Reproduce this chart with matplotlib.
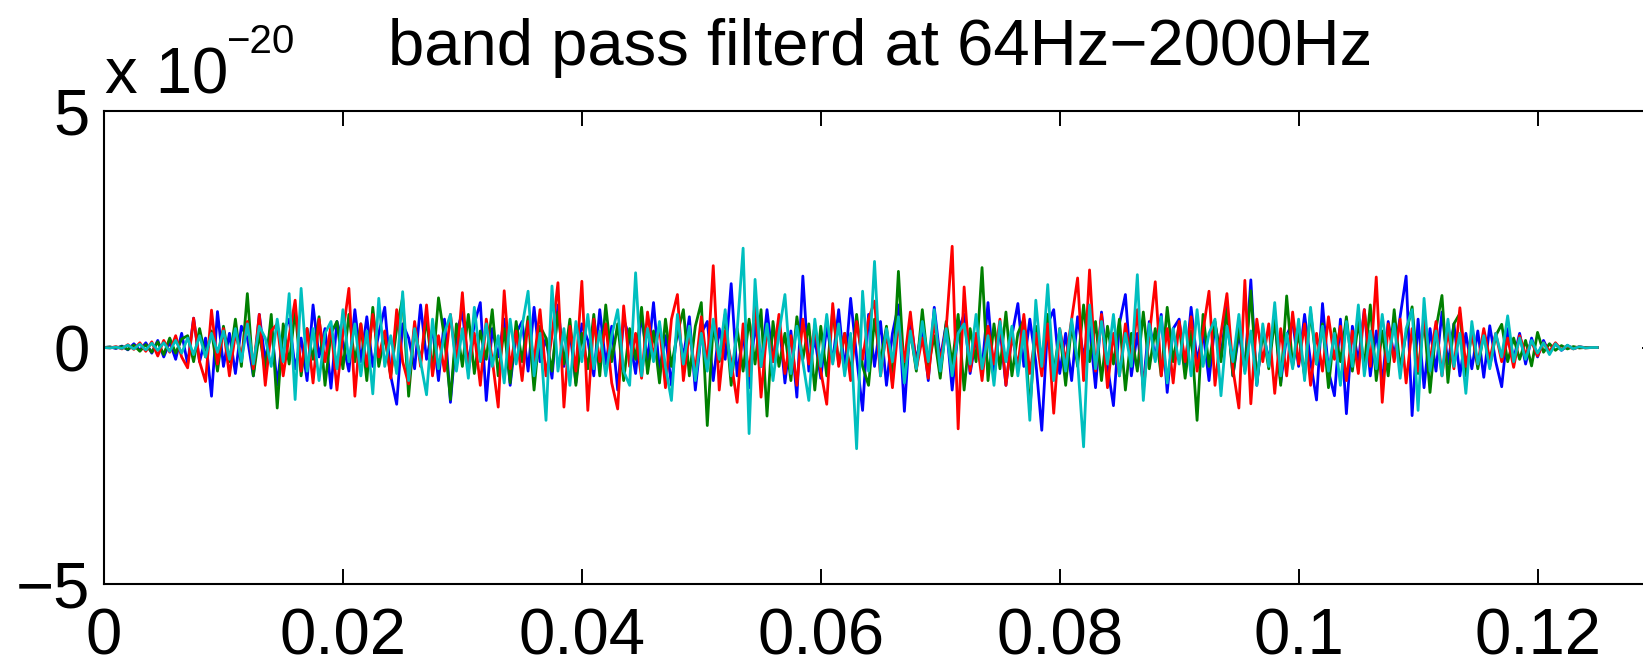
import numpy as np
import matplotlib
matplotlib.use('Agg')
import matplotlib.pyplot as plt

'''
Band pass filtered strain (64Hz - 2000Hz), four channels.
Values are in units of 1e-20, sampled every 0.5 ms from 0 to 0.125 s.
'''

dt = 0.0005

blue = [
    0, 0.01, -0.02, 0.03, -0.05, 0.08, -0.06, 0.1, -0.12, 0.15,
    -0.2, 0.12, -0.25, 0.3, -0.35, 0.62, -0.3, 0.2, -1.03, 0.76,
    -0.4, 0.3, -0.55, 0.45, 0.2, -0.6, 0.7, -0.3, 0.5, -0.8,
    0.35, 0.6, -0.45, 0.2, -0.7, 0.9, -0.2, 0.4, -0.86, 0.55,
    0.1, -0.5, 0.8, -0.3, 0.65, -0.4, 0.3, 0.85, -0.6, -1.2,
    0.5, 0.2, -0.45, 0.9, -0.25, 0.4, -0.7, 0.6, -1.16, 0.3,
    0.75, -0.35, 0.5, 0.95, -1.12, 0.4, -0.2, 0.6, -0.8, 0.3,
    0.55, -0.5, 0.85, -0.3, 0.2, -0.65, 0.9, -0.4, 0.35, -0.75,
    0.5, 0.15, -0.6, 0.8, -0.35, 0.45, -0.9, 0.6, 0.2, -0.55,
    0.7, -0.3, 0.95, -0.5, 0.25, -0.8, 0.45, -0.2, 0.65, -0.9,
    0.3, 0.55, -0.7, 0.4, -0.25, 1.35, -0.6, 0.3, -0.85, 0.5,
    -0.4, 0.8, -0.3, 0.6, -0.75, 0.35, -1.05, 1.51, -0.5, 0.2,
    -0.65, 0.45, -0.3, 0.8, -0.5, 1.04, -0.2, -1.33, 0.7, -0.4,
    0.55, -0.8, 0.3, 0.9, -1.35, 0.6, -0.3, 0.45, -0.7, 0.85,
    -0.25, 0.5, -0.9, 0.35, 0.7, -0.55, 0.2, -0.45, 0.95, -0.6,
    0.4, -0.8, 0.25, 0.93, -0.4, 0.6, -0.3, -1.75, 0.5, 0.8,
    -0.55, 0.3, -0.7, 0.65, -0.2, 0.45, -0.85, 0.75, -0.4, -1.23,
    0.5, 1.12, -0.6, 0.3, -0.8, 0.55, -0.25, 0.7, -0.95, 0.4,
    0.6, -0.5, 0.85, -0.3, 0.35, -0.7, 0.5, -0.2, 0.9, -0.6,
    0.3, -0.45, 1.43, -0.8, 0.4, -0.3, 0.65, -0.75, 0.25, 0.55,
    -0.4, 0.7, -0.3, -1.11, 0.93, -0.5, -1.02, 0.6, -1.4, 0.45,
    -0.3, 0.8, -0.6, 0.35, -0.75, 0.55, -0.2, 0.65, 1.51, -1.44,
    0.6, -0.85, 0.4, -0.5, 0.75, -0.35, 0.5, -0.6, 0.3, -0.45,
    0.35, -0.63, 0.46, -0.3, -0.83, 0.4, -0.25, 0.3, -0.35, 0.2,
    -0.2, 0.15, -0.12, 0.08, -0.06, 0.04, -0.02, 0.01, 0, 0, 0,
]

green = [
    0, 0.01, -0.01, 0.02, -0.04, 0.05, -0.08, 0.06, -0.1, 0.12,
    -0.15, 0.2, -0.12, 0.18, 0.25, -0.3, 0.4, -0.2, 0.35, -0.5,
    0.45, -0.3, 0.6, -0.4, 1.14, -0.6, 0.3, -0.5, 0.7, -1.28,
    0.5, -0.35, 0.8, -0.6, 0.4, -0.25, 0.65, -0.8, 0.3, 0.55,
    -0.45, 0.7, -0.3, 0.5, -0.7, 0.85, -0.4, 0.25, -0.6, 0.4,
    1.05, -1.03, 0.45, -0.3, 0.6, -0.5, 1.05, 0.2, -1.1, 0.5,
    -0.4, 0.7, -0.55, 0.35, -0.25, 0.8, -0.6, 0.4, -0.75, 0.55,
    -0.3, 0.65, -0.9, 0.45, 0.2, -0.5, 0.75, -0.35, 0.6, -0.8,
    0.3, -0.45, 0.7, -0.6, 0.9, -0.3, 0.5, -0.7, 0.4, -0.25,
    0.85, -0.55, 0.35, -0.75, 0.6, -0.4, 0.3, 0.8, -0.6, 0.45,
    0.95, -1.65, 0.5, -0.3, 0.7, -0.8, 0.4, -0.5, 0.6, -0.35,
    0.8, -1.45, 0.55, -0.4, 0.3, -0.7, 0.65, -0.25, 0.5, -0.9,
    0.45, -0.6, 0.8, -0.35, 0.3, -0.55, 0.7, -0.4, -0.8, 0.6,
    -0.3, 0.45, -0.75, 1.61, -0.6, 0.35, -0.5, 0.8, -0.4, 0.25,
    -0.65, 0.55, -0.35, 0.7, -0.9, 0.4, -0.3, 1.69, -0.7, 0.5,
    -0.45, 0.75, -0.6, 0.3, 0.6, -1.33, 0.45, -0.25, 0.7, -0.55,
    0.35, -0.8, 0.5, -0.4, 0.9, -0.3, 0.55, -0.7, 0.45, -0.35,
    0.6, -0.9, 0.3, -0.5, 0.75, -0.45, 0.4, -0.6, 0.85, -0.3,
    0.5, -0.65, 0.35, -1.54, 0.7, -0.4, 0.55, -0.3, 0.8, -0.6,
    0.45, -0.5, 1.2, -0.75, 0.35, -0.45, 0.6, -0.8, 1.09, -0.4,
    0.3, -0.6, 0.75, -0.35, 0.5, -0.85, 0.4, -0.3, 0.65, -0.5,
    0.55, -0.4, 0.9, -0.7, 0.35, -0.6, 0.8, -0.45, 0.3, 0.86,
    -0.55, 0.6, -0.95, 0.4, 1.1, -0.74, 0.5, 0.72, -0.6, 0.35,
    -0.45, 0.3, -0.4, 0.25, 0.49, -0.3, 0.2, -0.25, 0.15, -0.39,
    0.32, -0.1, 0.08, -0.06, 0.04, -0.03, 0.02, -0.01, 0, 0, 0,
]

red = [
    0, -0.01, 0.02, -0.03, 0.06, -0.04, 0.1, -0.08, 0.12, -0.18,
    0.15, -0.1, 0.25, -0.2, -0.43, 0.62, -0.3, -0.72, 0.79, -0.35,
    0.4, -0.6, 0.3, -0.2, 0.55, -0.45, 0.7, -0.8, 0.35, 0.5,
    -0.6, 0.25, 1.0, -0.5, 0.4, -0.75, 0.6, -0.3, 0.45, -0.9,
    0.3, 1.25, -1.03, 0.5, -0.4, 0.7, -0.2, 0.35, -0.65, 0.8,
    -0.3, -0.77, 0.55, -0.4, 0.9, -0.6, 0.25, -0.5, 0.7, -0.35,
    1.16, -0.5, 0.3, -0.8, 0.6, -0.25, -1.26, 1.2, -0.45, 0.35,
    -0.7, 0.55, -0.3, 0.8, -0.6, 0.25, 1.37, -1.26, 0.45, -0.5,
    1.4, -1.33, 0.6, -0.3, 0.5, -0.75, -1.3, 0.88, -0.4, 0.3,
    -0.65, 0.75, -0.2, 0.45, -0.85, 0.6, 1.12, -0.7, 0.3, -0.5,
    0.65, -0.4, 1.73, -0.9, 0.35, -0.3, -1.16, 0.5, -0.6, 0.98,
    -1.05, 0.4, -0.3, 0.7, -0.55, 0.25, -0.8, 0.6, -0.35, 0.45,
    -0.5, -1.2, 0.93, -0.4, 0.3, -0.7, 0.55, -0.25, 0.6, 0.98,
    -0.6, 0.35, -0.85, 0.5, -0.3, 0.75, -0.45, 0.2, -0.65, 0.55,
    -0.3, 0.4, 2.14, -1.72, 1.28, -0.5, 0.3, -0.7, 0.45, -0.35,
    0.6, -0.8, 0.25, -0.4, 0.7, -0.55, 0.3, -0.6, 0.5, -1.39,
    0.4, -0.3, 0.6, 1.47, -0.7, 1.64, -0.5, 0.7, -0.85, 0.3,
    -0.6, 0.5, -0.35, 0.8, -0.9, 0.25, 1.39, -0.6, 0.4, -0.75,
    0.55, -0.3, 0.65, -0.5, 0.35, 1.19, -0.8, 0.3, 1.14, -0.45,
    -1.28, 1.42, -1.19, 0.6, -0.3, 0.5, -0.97, 0.4, -0.6, 0.75,
    -0.35, 0.5, -0.8, 0.3, -0.5, 0.65, -0.25, 0.45, -0.7, 0.35,
    -0.55, 0.8, -0.4, 1.49, -1.16, 0.5, -0.3, 0.6, -0.75, 0.4,
    -0.5, 0.65, -0.3, 0.55, -0.6, 0.35, -0.45, 0.84, -0.4, 0.3,
    -0.35, 0.4, -0.25, 0.3, -0.3, 0.2, -0.42, 0.25, -0.15, 0.12,
    -0.18, 0.1, -0.08, 0.1, -0.05, 0.04, -0.03, 0.02, -0.01, 0, 0,
]

cyan = [
    0, -0.01, 0.01, -0.02, 0.05, -0.03, 0.07, -0.05, 0.09, -0.06,
    0.1, -0.08, 0.15, -0.12, 0.2, -0.15, 0.25, -0.2, 0.3, -0.1,
    0.35, -0.25, 0.4, -0.3, 0.5, -0.35, 0.45, 0.2, -0.4, 0.6,
    -0.3, 1.14, -1.1, 1.25, -0.5, 0.4, -0.7, 0.3, 0.55, -0.45,
    0.8, -0.3, 0.5, -0.6, 0.35, -0.98, 1.04, -0.4, 0.25, -0.55,
    1.18, -0.7, 0.4, -0.3, -1.0, 0.6, -0.45, 0.3, 0.7, -0.5,
    0.4, -0.65, 0.85, -0.3, 0.5, -0.4, 0.25, -0.75, 0.6, -0.35,
    0.45, 1.19, -0.6, 0.3, -1.54, 1.3, -0.5, 0.4, -0.8, 0.55,
    -0.3, 0.7, -0.45, 0.35, -0.6, 0.25, 0.8, -0.5, -0.8, 1.58,
    -0.6, 0.4, -0.3, 0.55, -0.4, -1.12, 0.7, -0.35, 0.45, -0.7,
    0.3, -0.5, 0.6, -0.25, 0.8, -0.6, 0.35, 2.1, -1.82, 1.44,
    -0.4, 0.5, -0.7, 0.3, 1.12, -0.55, 0.45, -0.3, -1.12, 0.6,
    -0.4, 0.7, -0.35, 0.5, -0.6, 0.3, -2.14, 1.19, -0.5, 1.82,
    -0.6, 0.4, -0.3, 0.65, -0.75, 0.35, -0.45, 0.55, -0.3, 0.8,
    -0.5, 0.4, -0.6, 0.3, 0.5, -0.35, 0.7, -0.45, 0.25, -0.8,
    0.55, -0.3, 0.45, -0.6, 0.35, -1.54, 1.0, -0.4, 1.33, -0.7,
    0.4, -0.5, 0.6, -0.3, -2.1, 0.9, -0.45, 0.55, -0.35, 0.7,
    -0.6, 0.3, -0.4, 1.54, -1.12, 0.5, -0.3, 0.65, -0.75, 0.4,
    -0.35, 0.55, -0.6, 0.8, -0.4, 0.3, 0.6, -1.02, 0.45, -0.3,
    0.7, -0.55, 0.35, -0.8, 0.5, -0.4, 0.95, -0.6, 0.3, -0.45,
    0.6, -0.7, 0.85, -0.35, 0.45, -0.5, 0.3, -0.8, 0.55, -0.4,
    0.9, -0.6, 0.35, -0.45, 0.7, -0.3, 0.5, -0.65, 0.4, 0.8,
    -1.33, 1.04, -0.5, 0.35, -0.6, 0.6, -0.4, 0.3, -0.97, 0.55,
    -0.35, 0.25, -0.45, 0.3, -0.2, 0.67, -0.3, 0.2, -0.25, 0.15,
    -0.12, 0.1, -0.15, 0.08, -0.06, 0.05, -0.03, 0.02, -0.01, 0, 0,
]

xticks = [0, 0.02, 0.04, 0.06, 0.08, 0.1, 0.12]
xticklabels = ['0', '0.02', '0.04', '0.06', '0.08', '0.1', '0.12']
yticks = [-5, 0, 5]
yticklabels = ['\u22125', '0', '5']

plt.rcParams['font.family'] = ['Liberation Sans', 'DejaVu Sans']

t = np.arange(len(blue)) * dt

W, H = 1643, 665
fig = plt.figure(figsize=(W / 100, H / 100), dpi=100)
# axes runs past the right edge of the figure, like the cropped original
ax = fig.add_axes([104 / W, 1 - 584 / H, 1553 / W, 473 / H])

ax.plot(t, blue, color=(0, 0, 1), lw=2.0)
ax.plot(t, green, color=(0, 0.5, 0), lw=2.0)
ax.plot(t, red, color=(1, 0, 0), lw=2.0)
ax.plot(t, cyan, color=(0, 0.75, 0.75), lw=2.0)

ax.set_xlim(0, 0.13)
ax.set_ylim(-5, 5)
ax.set_xticks(xticks)
ax.set_xticklabels(xticklabels)
ax.set_yticks(yticks)
ax.set_yticklabels(yticklabels)
ax.tick_params(direction='in', length=10.5, width=1.4, labelsize=47,
               top=True, right=True)
ax.tick_params(axis='x', pad=17)
ax.tick_params(axis='y', pad=10)
for s in ax.spines.values():
    s.set_linewidth(1.5)

ax.set_title('band pass filterd at 64Hz\u22122000Hz', fontsize=47, pad=33)

# exponent label drawn by hand (data kept in units of 1e-20)
fig.text(105 / W, 1 - 93 / H, 'x 10', fontsize=47, va='baseline', ha='left')
fig.text(226 / W, 1 - 53 / H, '\u221220', fontsize=29, va='baseline', ha='left')

plt.savefig('out.png', dpi=100)
